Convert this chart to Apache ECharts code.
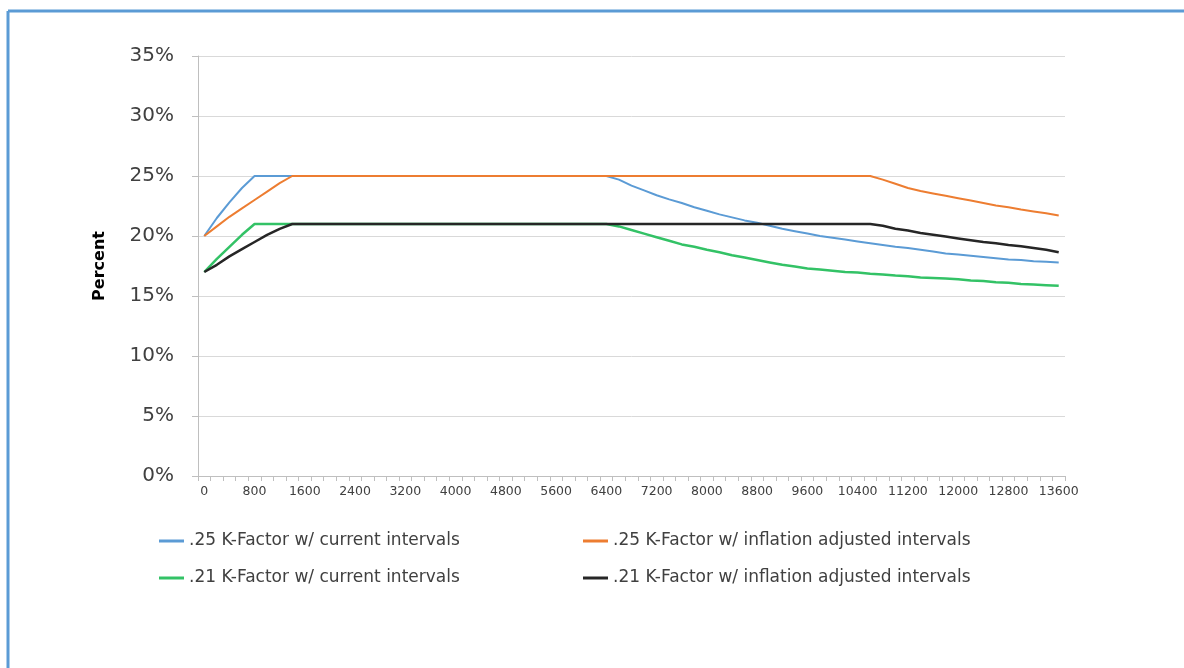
<!DOCTYPE html>
<html>
<head>
<meta charset="utf-8">
<script src="https://cdn.jsdelivr.net/npm/echarts@6/dist/echarts.min.js"></script>
<style>
html,body{margin:0;padding:0;background:#fff;}
#chart{width:1184px;height:668px;}
</style>
</head>
<body>
<div id="chart"></div>
<script>
var categories = ['0','200','400','600','800','1000','1200','1400','1600','1800','2000','2200','2400','2600','2800','3000','3200','3400','3600','3800','4000','4200','4400','4600','4800','5000','5200','5400','5600','5800','6000','6200','6400','6600','6800','7000','7200','7400','7600','7800','8000','8200','8400','8600','8800','9000','9200','9400','9600','9800','10000','10200','10400','10600','10800','11000','11200','11400','11600','11800','12000','12200','12400','12600','12800','13000','13200','13400','13600'];

var seriesNames = ['.25 K-Factor w/ current intervals', '.25 K-Factor w/ inflation adjusted intervals', '.21 K-Factor w/ current intervals', '.21 K-Factor w/ inflation adjusted intervals'];

var k25Current = [20,21.5,22.8,24,25,
  25,25,25,25,25,25,25,25,25,25,25,25,25,25,25,25,25,25,25,25,25,25,25,25,25,25,25,25,
  24.7,24.2,23.8,23.4,23.05,22.75,22.4,22.1,21.8,21.55,21.3,21.1,20.85,20.6,20.4,20.2,20.0,19.85,19.7,19.55,19.4,19.25,19.1,19.0,18.85,18.7,18.55,18.45,18.35,18.25,18.15,18.05,18.0,17.9,17.85,17.8];

var k25Inflation = [20,20.8,21.6,22.3,23.0,23.7,24.4,25,
  25,25,25,25,25,25,25,25,25,25,25,25,25,25,25,25,25,25,25,25,25,25,25,25,25,25,25,25,25,25,25,25,25,25,25,25,25,25,25,25,25,25,25,25,25,25,
  24.7,24.35,24.0,23.75,23.55,23.35,23.15,22.95,22.75,22.55,22.4,22.2,22.05,21.9,21.7];

var k21Current = [17,18.1,19.1,20.1,21,
  21,21,21,21,21,21,21,21,21,21,21,21,21,21,21,21,21,21,21,21,21,21,21,21,21,21,21,21,
  20.8,20.5,20.2,19.9,19.6,19.3,19.1,18.85,18.65,18.4,18.2,18.0,17.8,17.6,17.45,17.3,17.2,17.1,17.0,16.95,16.85,16.8,16.7,16.65,16.55,16.5,16.45,16.4,16.3,16.25,16.15,16.1,16.0,15.95,15.9,15.85];

var k21Inflation = [17,17.6,18.3,18.9,19.5,20.1,20.6,21,
  21,21,21,21,21,21,21,21,21,21,21,21,21,21,21,21,21,21,21,21,21,21,21,21,21,21,21,21,21,21,21,21,21,21,21,21,21,21,21,21,21,21,21,21,21,21,
  20.85,20.6,20.45,20.25,20.1,19.95,19.8,19.65,19.5,19.4,19.25,19.15,19.0,18.85,18.65];

var yTicks = {min: 0, max: 35, interval: 5};

var colors = ['#5B9BD5', '#ED7D31', '#33C266', '#262626'];
var FONT = 'DejaVu Sans';

var chart = echarts.init(document.getElementById('chart'), null, {renderer: 'canvas'});

var legendText = {color: '#404040', fontSize: 17, fontFamily: FONT, lineHeight: 20};

chart.setOption({
  animation: false,
  backgroundColor: '#ffffff',
  color: colors,
  graphic: [
    {type: 'line', shape: {x1: 8, y1: 11, x2: 1184, y2: 11}, style: {stroke: '#5B9BD5', lineWidth: 3}},
    {type: 'line', shape: {x1: 8, y1: 11, x2: 8, y2: 668}, style: {stroke: '#5B9BD5', lineWidth: 3}}
  ],
  grid: {left: 198, right: 119, top: 56, bottom: 192, containLabel: false},
  legend: [
    {
      data: [seriesNames[0], seriesNames[2]],
      orient: 'vertical', left: 159, top: 531, itemGap: 17,
      icon: 'rect', itemWidth: 25, itemHeight: 3,
      textStyle: legendText, padding: 0
    },
    {
      data: [seriesNames[1], seriesNames[3]],
      orient: 'vertical', left: 583, top: 531, itemGap: 17,
      icon: 'rect', itemWidth: 25, itemHeight: 3,
      textStyle: legendText, padding: 0
    }
  ],
  xAxis: {
    type: 'category',
    data: categories,
    boundaryGap: true,
    axisLine: {show: true, lineStyle: {color: '#BFBFBF', width: 1}},
    axisTick: {show: true, interval: 0, length: 5, lineStyle: {color: '#BFBFBF'}},
    axisLabel: {interval: 3, color: '#404040', fontSize: 12.5, fontFamily: FONT, margin: 9, hideOverlap: false},
    splitLine: {show: false}
  },
  yAxis: {
    type: 'value',
    min: yTicks.min, max: yTicks.max, interval: yTicks.interval,
    name: 'Percent',
    nameLocation: 'middle',
    nameRotate: 90,
    nameGap: 90,
    nameTextStyle: {color: '#000000', fontSize: 16, fontWeight: 'bold', fontFamily: FONT},
    axisLine: {show: true, lineStyle: {color: '#BFBFBF', width: 1}},
    axisTick: {show: true, length: 6, lineStyle: {color: '#BFBFBF'}},
    axisLabel: {formatter: '{value}%', color: '#404040', fontSize: 20, fontFamily: FONT, margin: 24},
    splitLine: {show: true, lineStyle: {color: '#D9D9D9', width: 1}}
  },
  series: [
    {name: seriesNames[0], type: 'line', data: k25Current, showSymbol: false, symbol: 'none', lineStyle: {width: 2, color: colors[0]}, itemStyle: {color: colors[0]}},
    {name: seriesNames[1], type: 'line', data: k25Inflation, showSymbol: false, symbol: 'none', lineStyle: {width: 2, color: colors[1]}, itemStyle: {color: colors[1]}},
    {name: seriesNames[2], type: 'line', data: k21Current, showSymbol: false, symbol: 'none', lineStyle: {width: 2.5, color: colors[2]}, itemStyle: {color: colors[2]}},
    {name: seriesNames[3], type: 'line', data: k21Inflation, showSymbol: false, symbol: 'none', lineStyle: {width: 2.5, color: colors[3]}, itemStyle: {color: colors[3]}}
  ]
});
</script>
</body>
</html>
